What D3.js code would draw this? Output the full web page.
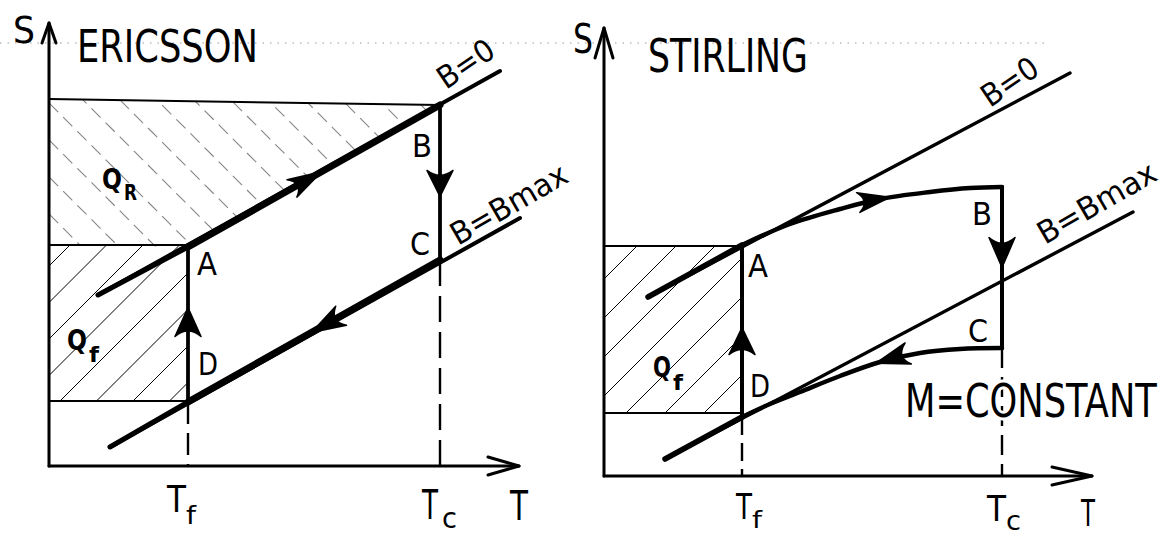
<!DOCTYPE html>
<html>
<head>
<meta charset="utf-8">
<script src="https://cdn.jsdelivr.net/npm/d3@7"></script>
<style>
  html, body { margin: 0; padding: 0; background: #fff; }
  svg { display: block; }
</style>
</head>
<body>
<svg id="chart" width="1168" height="535"></svg>
<script>
// ---------- Ericsson cycle, (T, S) in drawing units ----------
const ericAxisMax   = [47, 44.3];                              // T, S axis lengths
const ericTemps     = [13.9, 39.1];                            // T_f, T_c
const ericFieldZero = [[4.9, 17.1], [45.1, 39.5]];             // B = 0 isofield line
const ericFieldMax  = [[6.1, 1.9], [47.1, 24.8]];              // B = Bmax isofield line
const ericCycle     = [[13.9, 21.9], [39.1, 36.1], [39.1, 20.6], [13.9, 6.4]]; // A, B, C, D
const ericHeatR     = [[0, 36.7], [39.1, 36.1], [13.9, 21.9], [0, 22.1]];     // Q_R area
const ericHeatF     = [[0, 22.1], [13.9, 22.1], [13.9, 6.5], [0, 6.5]];      // Q_f area

// ---------- Stirling cycle ----------
const stirAxisMax   = [48.8, 44.8];
const stirTemps     = [13.8, 39.8];
const stirFieldZero = [[4.4, 17.9], [46.6, 40.3]];
const stirFieldMax  = [[6.1, 1.7], [52.9, 26.4]];
const stirCycle     = [[13.8, 23.1], [39.8, 28.9], [39.8, 12.8], [13.8, 5.9]];
const stirPathAB    = [[13.8, 23.1], [18.6, 25.2], [23.6, 26.7], [27.6, 27.7], [32.6, 28.4], [36.6, 28.8], [39.8, 28.9]];
const stirPathCD    = [[39.8, 12.8], [35.6, 12.7], [31.6, 12.3], [27.6, 11.4], [23.6, 10.0], [19.6, 8.4], [16.6, 7.2], [13.8, 5.9]];
const stirHeatF     = [[0, 23.0], [13.8, 23.0], [13.8, 6.3], [0, 6.3]];

// ---------- labels ----------
const pointNames = ["A", "B", "C", "D"];
const tickBase   = ["T", "T"];
const tickSub    = ["f", "c"];
const titles     = ["ERICSSON", "STIRLING"];

const W = 1168, H = 535;
const INK = "#000";
const FONT = "'DejaVu Sans', 'Liberation Sans', sans-serif";

const svg = d3.select("#chart");
svg.append("rect").attr("width", W).attr("height", H).attr("fill", "#fff");
const defs = svg.append("defs");

const ericX = d3.scaleLinear().domain([0, ericAxisMax[0]]).range([49, 519]);
const ericY = d3.scaleLinear().domain([0, ericAxisMax[1]]).range([466, 23]);
const stirX = d3.scaleLinear().domain([0, stirAxisMax[0]]).range([604, 1092]);
const stirY = d3.scaleLinear().domain([0, stirAxisMax[1]]).range([476, 28]);

// ---------- helpers ----------
// Text is drawn at the origin and squeezed horizontally to the wanted width,
// which gives the narrow stencil look of the lettering.
function label(g, str, x, y, size, opt = {}) {
  const t = g.append("text")
    .attr("x", 0).attr("y", 0)
    .attr("font-family", FONT)
    .attr("font-size", size)
    .attr("fill", INK)
    .text(str);
  if (opt.weight) t.attr("font-weight", opt.weight);
  if (opt.halo) t.attr("stroke", "#fff").attr("stroke-width", opt.halo).attr("paint-order", "stroke");
  let sx = 1;
  if (opt.width) {
    const natural = t.node().getComputedTextLength();
    if (natural > 0) sx = opt.width / natural;
  }
  t.attr("transform", `translate(${x},${y}) rotate(${opt.rotate || 0}) scale(${sx},1)`);
  return t;
}

function seg(g, p0, p1, w, dash) {
  const l = g.append("line")
    .attr("x1", p0[0]).attr("y1", p0[1])
    .attr("x2", p1[0]).attr("y2", p1[1])
    .attr("stroke", INK).attr("stroke-width", w)
    .attr("stroke-linecap", dash ? "butt" : "round");
  if (dash) l.attr("stroke-dasharray", dash);
  return l;
}

function filledArrow(g, tip, angle, len, half) {
  const d = `M0,0 L${-len},${-half} Q${-len * 0.62},0 ${-len},${half} Z`;
  g.append("path").attr("d", d)
    .attr("transform", `translate(${tip[0]},${tip[1]}) rotate(${angle * 180 / Math.PI})`)
    .attr("fill", INK).attr("stroke", INK).attr("stroke-width", 1.5).attr("stroke-linejoin", "round");
}

function openArrow(g, tip, angle, len, half, w) {
  const d = `M${-len},${-half} L0,0 L${-len},${half}`;
  g.append("path").attr("d", d)
    .attr("transform", `translate(${tip[0]},${tip[1]}) rotate(${angle * 180 / Math.PI})`)
    .attr("fill", "none").attr("stroke", INK).attr("stroke-width", w)
    .attr("stroke-linecap", "round").attr("stroke-linejoin", "round");
}

let clipCount = 0;
// dir +1 : "/" hatching (x + y = c), dir -1 : "\" hatching (y - x = c)
function hatch(g, poly, dir, spacing, phase, style) {
  const id = "hatch" + (clipCount++);
  defs.append("clipPath").attr("id", id)
    .append("polygon").attr("points", poly.map(p => p.join(",")).join(" "));
  const xs = poly.map(p => p[0]), ys = poly.map(p => p[1]);
  const x0 = d3.min(xs), x1 = d3.max(xs), y0 = d3.min(ys), y1 = d3.max(ys);
  const hg = g.append("g").attr("clip-path", `url(#${id})`);
  const cMin = dir > 0 ? x0 + y0 : y0 - x1;
  const cMax = dir > 0 ? x1 + y1 : y1 - x0;
  const kStart = Math.floor((cMin - phase) / spacing), kEnd = Math.ceil((cMax - phase) / spacing);
  for (let k = kStart; k <= kEnd; k++) {
    const c = phase + k * spacing;
    const l = dir > 0
      ? hg.append("line").attr("x1", c - y1).attr("y1", y1).attr("x2", c - y0).attr("y2", y0)
      : hg.append("line").attr("x1", x0).attr("y1", x0 + c).attr("x2", x1).attr("y2", x1 + c);
    l.attr("stroke", style.color).attr("stroke-width", style.width)
      .attr("stroke-opacity", style.opacity || 1);
    if (style.dash) l.attr("stroke-dasharray", style.dash);
  }
}

function lerp(p0, p1, t) { return [p0[0] + (p1[0] - p0[0]) * t, p0[1] + (p1[1] - p0[1]) * t]; }
function ang(p0, p1) { return Math.atan2(p1[1] - p0[1], p1[0] - p0[0]); }

function arrowOnPath(g, node, frac, len, half) {
  const L = node.getTotalLength();
  const s = L * frac;
  const p = node.getPointAtLength(s), q = node.getPointAtLength(Math.max(0, s - 3));
  filledArrow(g, [p.x, p.y], Math.atan2(p.y - q.y, p.x - q.x), len, half);
}

// faint ruled line across the top of the sheet
svg.append("line").attr("x1", 0).attr("y1", 43).attr("x2", 1050).attr("y2", 43)
  .attr("stroke", "#9a9a9a").attr("stroke-width", 1).attr("stroke-dasharray", "1.5 6");

// =====================================================================
// Ericsson panel
// =====================================================================
(function () {
  const g = svg.append("g");
  const X = ericX, Y = ericY;
  const P = d => [X(d[0]), Y(d[1])];
  const cyc = ericCycle.map(P);

  // hatched heat areas
  hatch(g, ericHeatR.map(P), -1, 37, -57, { color: "#333", width: 1.1, opacity: 0.6, dash: "13 7" });
  hatch(g, ericHeatF.map(P), +1, 36.5, 534, { color: INK, width: 1 });

  // area outlines
  seg(g, P(ericHeatR[0]), P(ericHeatR[1]), 2);
  seg(g, P(ericHeatF[0]), P(ericHeatF[1]), 1.8);
  seg(g, P(ericHeatF[3]), P(ericHeatF[2]), 1.8);

  // isofield lines
  seg(g, P(ericFieldZero[0]), P(ericFieldZero[1]), 4);
  seg(g, P(ericFieldMax[0]), P(ericFieldMax[1]), 4);
  seg(g, P(ericFieldZero[0]), cyc[0], 5);
  seg(g, P(ericFieldMax[0]), cyc[3], 5);

  // cycle A -> B -> C -> D -> A
  seg(g, cyc[0], cyc[1], 7);
  seg(g, cyc[1], cyc[2], 3.8);
  seg(g, cyc[2], cyc[3], 7);
  seg(g, cyc[3], cyc[0], 3.8);

  // temperature guides
  seg(g, cyc[3], [X(ericTemps[0]), Y(0)], 2.4, "22 9");
  seg(g, cyc[2], [X(ericTemps[1]), Y(0)], 2.4, "26 10");

  // axes
  seg(g, [X(0), Y(0)], [X(0), Y(ericAxisMax[1])], 3);
  seg(g, [X(0), Y(0)], [X(ericAxisMax[0]), Y(0)], 3);
  openArrow(g, [X(0), Y(ericAxisMax[1])], -Math.PI / 2, 20, 7, 3);
  openArrow(g, [X(ericAxisMax[0]), Y(0)], 0, 31, 9, 3);

  // direction arrows
  filledArrow(g, lerp(cyc[0], cyc[1], 0.53), ang(cyc[0], cyc[1]), 34, 10);
  filledArrow(g, lerp(cyc[1], cyc[2], 0.59), ang(cyc[1], cyc[2]), 26, 13);
  filledArrow(g, lerp(cyc[2], cyc[3], 0.51), ang(cyc[2], cyc[3]), 34, 11);
  filledArrow(g, lerp(cyc[3], cyc[0], 0.61), ang(cyc[3], cyc[0]), 29, 13);

  // state labels
  const off = [[9, 28], [-28, 52], [-30, -5], [10, -27]];
  pointNames.forEach((n, i) => label(g, n, cyc[i][0] + off[i][0], cyc[i][1] + off[i][1], 32, { width: 20 }));

  // axis names and title
  label(g, "S", 13, 43, 38, { width: 22 });
  label(g, titles[0], 77, 62, 45, { width: 181 });
  label(g, "T", 510, 520, 40, { width: 18 });

  // temperature tick labels
  const tf = X(ericTemps[0]), tc = X(ericTemps[1]);
  label(g, tickBase[0], tf - 21, 512, 38, { width: 19 });
  label(g, tickSub[0], tf - 2, 524, 24, { width: 10 });
  label(g, tickBase[1], tc - 18, 519, 40, { width: 16 });
  label(g, tickSub[1], tc + 2, 528, 28, { width: 15 });

  // heat labels
  label(g, "Q", 102, 189, 28, { width: 20, weight: "bold" });
  label(g, "R", 124, 200, 21, { width: 13, weight: "bold" });
  label(g, "Q", 67, 350, 28, { width: 20, weight: "bold" });
  label(g, "f", 89, 362, 22, { width: 10, weight: "bold" });

  // isofield labels
  label(g, "B=0", 446, 90, 31, { rotate: -34, width: 62 });
  label(g, "B=Bmax", 458, 246, 31, { rotate: -30, width: 130 });
})();

// =====================================================================
// Stirling panel
// =====================================================================
(function () {
  const g = svg.append("g");
  const X = stirX, Y = stirY;
  const P = d => [X(d[0]), Y(d[1])];
  const cyc = stirCycle.map(P);
  const line = d3.line().x(d => X(d[0])).y(d => Y(d[1])).curve(d3.curveCatmullRom.alpha(0.5));

  hatch(g, stirHeatF.map(P), +1, 39, 1078, { color: INK, width: 1 });
  seg(g, P(stirHeatF[0]), P(stirHeatF[1]), 1.8);
  seg(g, P(stirHeatF[3]), P(stirHeatF[2]), 1.8);

  // isofield lines
  seg(g, P(stirFieldZero[0]), P(stirFieldZero[1]), 3.4);
  seg(g, P(stirFieldMax[0]), P(stirFieldMax[1]), 3.4);
  seg(g, P(stirFieldZero[0]), cyc[0], 5.5);
  seg(g, P(stirFieldMax[0]), cyc[3], 5.5);

  // constant-magnetisation cycle
  const ab = g.append("path").attr("d", line(stirPathAB))
    .attr("fill", "none").attr("stroke", INK).attr("stroke-width", 4.5).attr("stroke-linecap", "round");
  const cd = g.append("path").attr("d", line(stirPathCD))
    .attr("fill", "none").attr("stroke", INK).attr("stroke-width", 4.5).attr("stroke-linecap", "round");
  seg(g, cyc[1], cyc[2], 4);
  seg(g, cyc[3], cyc[0], 4);

  // temperature guides
  seg(g, cyc[3], [X(stirTemps[0]), Y(0)], 2.4, "18 8");
  seg(g, cyc[2], [X(stirTemps[1]), Y(0)], 2.4, "20 9");

  // axes
  seg(g, [X(0), Y(0)], [X(0), Y(stirAxisMax[1])], 3);
  seg(g, [X(0), Y(0)], [X(stirAxisMax[0]), Y(0)], 3);
  openArrow(g, [X(0), Y(stirAxisMax[1])], -Math.PI / 2, 30, 9, 3);
  openArrow(g, [X(stirAxisMax[0]), Y(0)], 0, 40, 9, 3);

  // direction arrows
  arrowOnPath(g, ab.node(), 0.58, 32, 10);
  filledArrow(g, lerp(cyc[1], cyc[2], 0.5), ang(cyc[1], cyc[2]), 30, 13);
  arrowOnPath(g, cd.node(), 0.47, 34, 11);
  filledArrow(g, lerp(cyc[3], cyc[0], 0.52), ang(cyc[3], cyc[0]), 27, 13);

  const off = [[6, 32], [-30, 38], [-34, -6], [8, -20]];
  pointNames.forEach((n, i) => label(g, n, cyc[i][0] + off[i][0], cyc[i][1] + off[i][1], 32, { width: 20 }));

  label(g, "S", 573, 53, 40, { width: 20 });
  label(g, titles[1], 648, 72, 46, { width: 160 });
  label(g, "T", 1081, 526, 38, { width: 14 });

  const tf = X(stirTemps[0]), tc = X(stirTemps[1]);
  label(g, tickBase[0], tf - 6, 519, 36, { width: 16 });
  label(g, tickSub[0], tf + 10, 528, 23, { width: 10 });
  label(g, tickBase[1], tc - 15, 521, 36, { width: 19 });
  label(g, tickSub[1], tc + 4, 530, 26, { width: 15 });

  label(g, "Q", 653, 377, 28, { width: 18, weight: "bold" });
  label(g, "f", 673, 390, 22, { width: 10, weight: "bold" });

  label(g, "B=0", 990, 108, 31, { rotate: -34, width: 62 });
  label(g, "B=Bmax", 1045, 245, 31, { rotate: -30, width: 132 });

  label(g, "M=CONSTANT", 905, 417, 46, { width: 252, halo: 6 });
})();
</script>
</body>
</html>
